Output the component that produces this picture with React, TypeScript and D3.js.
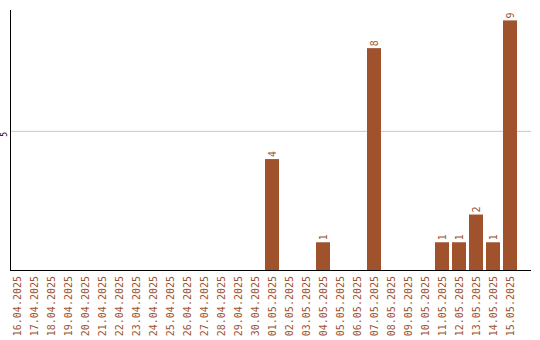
import React from "react";
import * as d3 from "d3";

const dates = [
  "16.04.2025", "17.04.2025", "18.04.2025", "19.04.2025", "20.04.2025",
  "21.04.2025", "22.04.2025", "23.04.2025", "24.04.2025", "25.04.2025",
  "26.04.2025", "27.04.2025", "28.04.2025", "29.04.2025", "30.04.2025",
  "01.05.2025", "02.05.2025", "03.05.2025", "04.05.2025", "05.05.2025",
  "06.05.2025", "07.05.2025", "08.05.2025", "09.05.2025", "10.05.2025",
  "11.05.2025", "12.05.2025", "13.05.2025", "14.05.2025", "15.05.2025",
];
const counts = [
  0, 0, 0, 0, 0, 0, 0, 0, 0, 0, 0, 0, 0, 0, 0,
  4, 0, 0, 1, 0, 0, 8, 0, 0, 0, 1, 1, 2, 1, 9,
];
const yTicks = [5];

const W = 540;
const H = 340;
const left = 11;
const right = 531;
const top = 10;
const bottom = 270;
const color = "#a0522d";
const mono = "'DejaVu Sans Mono', monospace";

export default function App() {
  const x = d3
    .scaleBand<string>()
    .domain(dates)
    .range([8.5, 518.5])
    .paddingInner(3 / 17)
    .paddingOuter(1.5 / 17);
  const y = d3.scaleLinear().domain([0, 9.375]).range([bottom, top]);

  return (
    <svg
      width={W}
      height={H}
      style={{ position: "absolute", left: 0, top: 0 }}
    >
      <rect width={W} height={H} fill="#fff" />
      {yTicks.map((t) => (
        <g key={t}>
          <line x1={left} x2={right} y1={y(t)} y2={y(t)} stroke="#c8c8c8" strokeWidth={1} />
          <text
            transform={`translate(7,${y(t) + 3}) rotate(-90)`}
            textAnchor="middle"
            fontFamily={mono}
            fontSize={8}
            fill="#000"
          >
            {t}
          </text>
        </g>
      ))}
      {dates.map((d, i) => {
        const v = counts[i];
        const cx = (x(d) as number) + x.bandwidth() / 2;
        return (
          <g key={d}>
            {v > 0 && (
              <>
                <rect
                  x={x(d)}
                  y={y(v)}
                  width={x.bandwidth()}
                  height={bottom - y(v)}
                  fill={color}
                />
                <text
                  transform={`translate(${cx + 3.5},${y(v) - 2}) rotate(-90)`}
                  textAnchor="start"
                  fontFamily={mono}
                  fontSize={10}
                  fill={color}
                >
                  {v}
                </text>
              </>
            )}
            <text
              transform={`translate(${cx + 3.5},${bottom + 6}) rotate(-90)`}
              textAnchor="end"
              fontFamily={mono}
              fontSize={10}
              fill={color}
            >
              {d}
            </text>
          </g>
        );
      })}
      <line x1={left - 0.5} x2={left - 0.5} y1={top} y2={bottom} stroke="#000" strokeWidth={1} />
      <line x1={left - 1} x2={right} y1={bottom + 0.5} y2={bottom + 0.5} stroke="#000" strokeWidth={1} />
    </svg>
  );
}
